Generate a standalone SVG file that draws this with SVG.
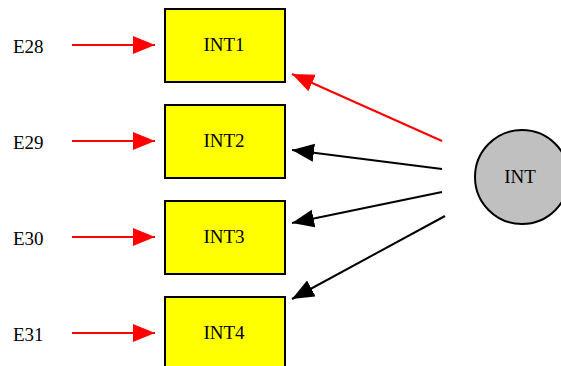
<svg xmlns="http://www.w3.org/2000/svg" width="561" height="366" viewBox="0 0 561 366">
  <style>
    text { font-family: Liberation Serif, serif; font-size: 19px; fill: #000; }
    .box { fill: #ffff00; stroke: #000; stroke-width: 2; }
    .lat { fill: #c0c0c0; stroke: #000; stroke-width: 2; }
    .red { stroke: #ff0000; stroke-width: 2; fill: none; }
    .blk { stroke: #000; stroke-width: 2; fill: none; }
  </style>
  <defs>
    <marker id="headRed" markerUnits="userSpaceOnUse" markerWidth="24" markerHeight="20" refX="22" refY="9" orient="auto">
      <polygon points="0,0 22,9 0,18" fill="#ff0000"/>
    </marker>
    <marker id="headBlk" markerUnits="userSpaceOnUse" markerWidth="24" markerHeight="20" refX="22" refY="9" orient="auto">
      <polygon points="0,0 22,9 0,18" fill="#000"/>
    </marker>
  </defs>

  <g id="connectors">
    <line class="red" x1="72" y1="45" x2="155" y2="45" marker-end="url(#headRed)"/>
    <line class="red" x1="72" y1="141" x2="155" y2="141" marker-end="url(#headRed)"/>
    <line class="red" x1="72" y1="237" x2="155" y2="237" marker-end="url(#headRed)"/>
    <line class="red" x1="72" y1="333" x2="155" y2="333" marker-end="url(#headRed)"/>
    <line class="red" x1="442" y1="141" x2="292" y2="74" marker-end="url(#headRed)"/>
    <line class="blk" x1="442" y1="169" x2="292" y2="150" marker-end="url(#headBlk)"/>
    <line class="blk" x1="442" y1="192" x2="292" y2="223" marker-end="url(#headBlk)"/>
    <line class="blk" x1="445" y1="216" x2="292" y2="299" marker-end="url(#headBlk)"/>
  </g>

  <g id="E28"><text x="13" y="53">E28</text></g>
  <g id="E29"><text x="13" y="149">E29</text></g>
  <g id="E30"><text x="13" y="245">E30</text></g>
  <g id="E31"><text x="13" y="341">E31</text></g>

  <g id="INT1"><rect class="box" x="165" y="9" width="120" height="73"/><text x="224" y="51" text-anchor="middle">INT1</text></g>
  <g id="INT2"><rect class="box" x="165" y="105" width="120" height="73"/><text x="224" y="147" text-anchor="middle">INT2</text></g>
  <g id="INT3"><rect class="box" x="165" y="201" width="120" height="73"/><text x="224" y="243" text-anchor="middle">INT3</text></g>
  <g id="INT4"><rect class="box" x="165" y="297" width="120" height="73"/><text x="224" y="339" text-anchor="middle">INT4</text></g>

  <g id="INT"><circle class="lat" cx="522" cy="177" r="47"/><text x="520" y="183" text-anchor="middle">INT</text></g>
</svg>
